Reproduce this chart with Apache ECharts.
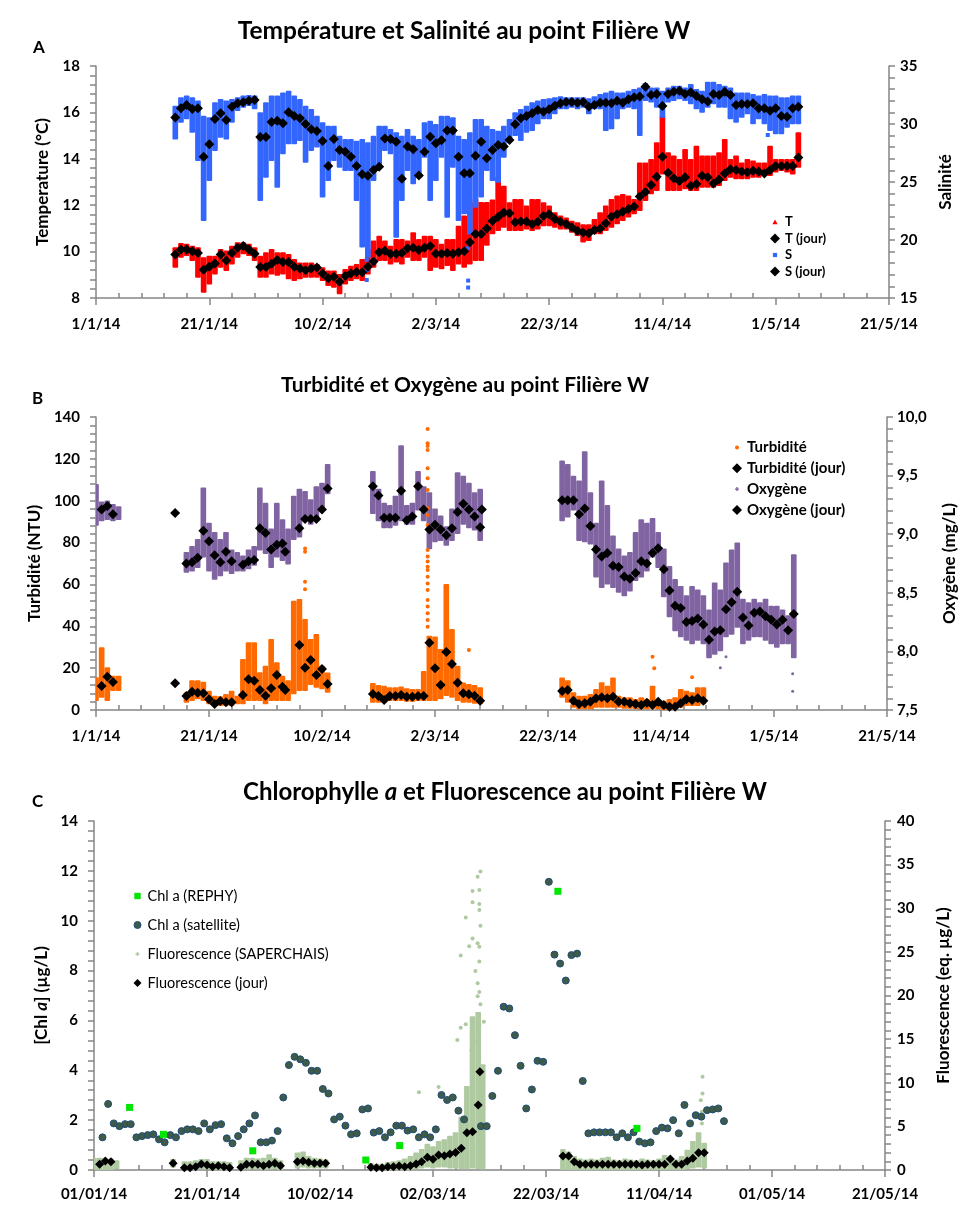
<!DOCTYPE html>
<html><head><meta charset="utf-8">
<script src="https://cdn.jsdelivr.net/npm/echarts@6/dist/echarts.min.js"></script>
<style>html,body{margin:0;padding:0;background:#fff}#c{width:970px;height:1207px}</style>
</head><body><div id="c"></div>
<script>
// ---------------- tick labels ----------------
const xLabelsAB = ['1/1/14','21/1/14','10/2/14','2/3/14','22/3/14','11/4/14','1/5/14','21/5/14'];
const xLabelsC  = ['01/01/14','21/01/14','10/02/14','02/03/14','22/03/14','11/04/14','01/05/14','21/05/14'];

// ---------------- Panel A : daily values start at day 14 (15/1/14) ----------------
const dayStartA = 14;
const tJour = [9.88,10.09,10.09,10.01,9.94,9.22,9.35,9.49,9.88,9.62,
 9.94,10.17,10.24,10.09,9.91,9.34,9.34,9.48,9.64,9.55,
 9.55,9.35,9.27,9.20,9.27,9.31,9.06,8.85,8.92,8.70,
 8.95,9.06,9.12,9.11,9.35,9.57,9.97,10.04,9.90,9.91,
 9.94,10.14,10.17,10.07,10.17,10.24,9.91,9.91,9.94,9.91,
 9.97,10.01,10.40,10.76,
 10.76,11.00,11.32,11.50,11.69,11.65,11.26,11.30,11.30,11.18,
 11.29,11.53,11.61,11.41,11.29,11.19,11.05,10.90,10.82,10.79,
 10.93,11.00,11.22,11.50,11.61,11.72,11.84,11.94,12.37,12.57,
 12.87,13.23,14.09,13.40,13.16,13.04,13.20,12.83,12.91,13.27,
 13.20,12.94,13.11,13.37,13.55,13.52,13.45,13.42,13.49,13.45,
 13.37,13.52,13.69,13.69,13.69,13.69,14.06];
const sJour = [30.57,31.35,31.64,31.29,31.35,27.18,28.25,30.43,30.92,30.34,
 31.49,31.78,31.87,32.01,32.07,28.88,28.88,30.17,30.29,30.06,
 31.01,30.69,30.49,30.00,29.54,29.40,28.53,26.38,28.71,27.76,
 27.61,27.18,26.38,25.66,25.54,26.03,26.32,28.76,28.71,28.48,
 25.29,28.05,27.82,25.57,27.61,28.91,28.34,28.59,29.43,29.43,
 27.18,25.75,25.75,27.27,
 28.48,27.04,27.76,28.19,28.05,28.62,29.97,30.49,30.69,30.92,
 31.21,31.06,31.27,31.58,31.78,31.90,31.90,31.84,31.90,31.49,
 31.64,31.84,31.84,31.78,32.01,31.84,32.13,32.30,32.36,33.22,
 32.50,32.59,31.55,32.59,32.79,32.87,32.59,32.73,32.41,32.13,
 31.93,32.59,32.50,32.79,32.50,31.64,31.72,31.72,31.78,31.35,
 31.35,31.15,31.35,30.69,30.63,31.35,31.49];
// raw high-frequency records, summarised as the daily min / max of the cloud
const tRawLo = [9.35,9.78,9.85,9.64,8.92,8.27,8.63,9.06,9.35,9.21,
 9.49,9.78,9.93,9.85,9.64,8.92,8.92,9.06,9.00,9.06,
 8.85,8.78,8.85,8.92,8.92,8.92,8.78,8.56,8.49,8.20,
 8.63,8.78,8.85,8.78,9.06,9.35,9.64,9.64,9.49,9.57,
 9.49,9.78,9.64,9.64,9.78,9.21,9.35,9.28,9.42,9.21,
 9.49,9.35,9.49,9.64,
 9.64,10.30,10.79,10.93,11.07,10.93,10.93,10.93,11.00,10.93,
 11.00,11.14,11.14,11.07,11.00,11.00,10.86,10.72,10.43,10.50,
 10.79,10.79,10.93,11.07,11.22,11.36,11.51,11.65,11.79,12.22,
 12.51,12.66,13.37,12.66,12.66,12.66,12.73,12.66,12.66,12.80,
 12.80,12.80,12.87,13.09,13.23,13.16,13.16,13.16,13.23,13.23,
 13.30,13.30,13.45,13.52,13.45,13.37,13.66];
const tRawHi = [10.14,10.33,10.29,10.21,10.14,9.71,9.78,9.78,10.07,10.00,
 10.21,10.36,10.36,10.29,10.14,9.78,9.93,10.07,9.93,9.93,
 9.85,9.64,9.49,9.49,9.49,9.42,9.28,9.14,9.14,8.99,
 9.21,9.35,9.42,9.64,10.07,10.43,10.64,10.43,10.21,10.50,
 10.50,10.43,10.79,10.50,10.64,10.64,10.50,10.29,10.50,10.50,
 11.07,11.51,12.08,12.23,
 12.10,12.10,12.20,13.20,12.80,12.08,12.22,12.22,11.94,12.22,
 12.22,12.08,11.94,11.65,11.51,11.43,11.29,11.22,11.14,11.14,
 11.36,11.65,11.94,12.22,12.37,12.44,12.37,12.22,13.80,13.80,
 13.95,14.67,15.82,14.24,14.10,13.95,14.38,13.95,14.52,14.10,
 14.10,14.10,14.24,14.81,13.95,14.10,13.80,13.95,13.88,13.80,
 13.80,14.52,13.95,13.95,13.95,13.95,15.10];
const sRawLo = [28.76,30.20,30.49,29.34,26.90,21.72,25.17,27.76,28.91,28.76,
 30.20,31.21,31.49,31.64,31.35,23.45,25.46,26.90,24.60,27.47,
 28.33,28.33,28.62,26.75,27.76,28.05,23.74,25.17,26.90,26.32,
 26.03,26.03,23.45,19.43,18.56,25.17,26.32,27.76,27.47,20.29,
 23.45,26.03,24.89,25.46,27.18,23.45,25.17,27.18,22.01,26.32,
 21.72,22.30,20.57,22.87,
 23.74,26.03,25.17,25.03,27.18,28.48,29.05,28.62,29.34,29.48,
 30.06,30.49,30.49,30.92,31.35,31.35,31.49,31.35,31.49,30.92,
 31.35,31.35,29.48,29.63,30.49,31.35,31.49,31.35,29.05,32.07,
 31.93,31.49,30.63,31.93,32.07,32.21,32.07,31.78,31.35,31.06,
 31.49,31.78,31.49,31.49,30.49,30.20,30.63,30.92,30.06,30.49,
 30.06,29.48,29.20,29.20,29.77,30.06,30.06];
const sRawHi = [31.49,32.21,32.36,32.21,31.93,30.63,30.49,31.78,32.07,31.93,
 32.07,32.21,32.36,32.41,32.36,30.92,31.78,32.36,32.36,32.64,
 32.79,32.36,32.07,31.49,31.21,30.63,30.06,29.77,29.77,28.91,
 28.62,28.62,28.48,28.62,28.33,28.91,29.77,29.77,29.48,29.20,
 28.91,29.48,28.91,28.62,30.06,30.20,29.91,30.63,30.63,30.49,
 28.91,28.62,29.20,30.34,
 30.34,29.77,29.48,29.34,29.77,30.34,30.92,31.21,31.49,31.78,
 31.93,32.07,32.13,32.21,32.30,32.21,32.21,32.21,32.21,32.13,
 32.30,32.50,32.64,32.79,32.64,32.64,32.79,32.93,33.07,33.45,
 33.07,33.07,32.79,33.07,33.22,33.22,33.07,33.36,32.93,32.79,
 33.56,33.56,33.36,33.22,33.07,32.64,32.64,32.64,32.50,32.36,
 32.50,32.36,32.36,32.21,32.21,32.36,32.36];
const sRawIsolated = [[47.8,18.28],[47.8,17.4],[47.8,16.55],[65.7,19.3],[65.7,16.5],[65.7,15.9],[118.6,29.05]];

// ---------------- Panel B ----------------
const turbJour = [[1,11.47],[2,15.93],[3,13.38],[14,12.74],[16,6.69],[17,8.76],[18,8.28],[19,7.96],[20,5.10],[21,2.87],[22,4.30],[23,3.66],[24,3.66],[26,7.17],[27,14.65],[28,14.01],[29,9.56],[30,6.85],[31,10.35],[32,16.72],[33,11.15],[33.5,9.56],[36,31.06],[37,20.23],[38,23.89],[39,16.72],[40,19.59],[41,12.42],[49,7.64],[50,6.69],[51,4.78],[52,6.69],[53,6.69],[54,7.17],[55,6.37],[56,6.37],[57,6.69],[58,6.69],[59,32.17],[60,19.91],[61,11.94],[62,27.71],[63,21.98],[64,13.06],[65,7.96],[66,7.48],[67,6.85],[68,4.46],[82.5,9.08],[83.5,9.56],[84.5,4.46],[85.5,2.87],[86.5,3.19],[87.5,3.98],[88.5,5.57],[89.5,6.05],[90.5,5.57],[91.5,6.37],[92.5,3.98],[93.5,3.98],[94.5,3.19],[95.5,2.87],[96.5,2.39],[97.5,3.50],[98.5,2.39],[99.5,3.98],[100.5,2.39],[101.5,1.59],[102.5,1.59],[103.5,3.19],[104.5,5.10],[105.5,4.78],[106.5,5.57],[107.5,4.46]];
const oxyJour = [[1,9.21],[2,9.24],[3,9.17],[14,9.18],[16,8.75],[17,8.76],[18,8.80],[19,9.03],[20,8.94],[21,8.82],[22,8.76],[23,8.85],[24,8.77],[26,8.74],[27,8.77],[28,8.78],[29,9.05],[30,9.01],[31,8.87],[32,8.91],[33,8.92],[33.5,8.85],[36,9.05],[37,9.13],[38,9.13],[39,9.13],[40,9.21],[41,9.39],[49,9.41],[50,9.33],[51,9.14],[52,9.14],[53,9.14],[54,9.37],[55,9.12],[56,9.15],[57,9.41],[58,9.21],[59,9.04],[60,9.08],[61,9.04],[62,8.99],[63,9.05],[64,9.19],[65,9.26],[66,9.21],[67,9.15],[68,9.06],[68.3,9.21],[82.5,9.29],[83.5,9.29],[84.5,9.29],[85.5,9.17],[86.5,9.22],[87.5,9.07],[88.5,8.87],[89.5,8.81],[90.5,8.84],[91.5,8.73],[92.5,8.72],[93.5,8.64],[94.5,8.62],[95.5,8.67],[96.5,8.77],[97.5,8.75],[98.5,8.84],[99.5,8.88],[100.5,8.70],[101.5,8.52],[102.5,8.39],[103.5,8.37],[104.5,8.25],[105.5,8.26],[106.5,8.28],[107.5,8.23],[108.5,8.10],[109.5,8.17],[110.5,8.18],[111.5,8.36],[112.5,8.42],[113.5,8.51],[114.5,8.29],[115.5,8.22],[116.5,8.33],[117.5,8.34],[118.5,8.30],[119.5,8.27],[120.5,8.23],[121.5,8.27],[122.5,8.18],[123.5,8.32]];
// [day, min, max] of the raw cloud
const turbRaw = [[0,4.78,15.2],[1,6.37,29.46],[2,4.78,19.91],[3,9.56,15.93],[4,9.56,15.93],[16,3.98,7.96],[17,4.78,13.7],[18,5.57,13.7],[19,4.78,13.06],[20,3.19,8.76],[21,2.39,6.37],[22,2.39,6.05],[23,2.39,7.17],[24,2.39,8.76],[25,3.19,6.37],[26,3.19,23.89],[27,4.78,31.85],[28,4.78,31.85],[29,4.78,17.52],[30,3.19,20.7],[31,4.78,33.44],[32,4.78,22.3],[33,4.78,15.93],[34,4.78,13.7],[35,7.96,51.76],[36,9.56,52.6],[37,9.56,43.0],[38,12.4,33.4],[39,11.15,35.8],[40,10.35,20.7],[41,8.76,17.5],[49,3.98,12.4],[50,3.98,11.47],[51,3.98,11.15],[52,4.78,10.35],[53,4.78,10.35],[54,4.78,10.8],[55,4.46,9.87],[56,4.46,9.56],[57,4.78,9.56],[58,4.78,18.15],[59,4.78,35],[60,4.78,34.7],[61,5.57,28.7],[62,7.17,59.7],[63,6.37,38.2],[64,4.78,20.7],[65,3.98,12.7],[66,3.98,11.94],[67,3.5,11.47],[68,3.19,10.35],[82.5,6.37,15.1],[83.5,3.98,13.7],[84.5,1.59,7.96],[85.5,0.8,6.37],[86.5,0.8,6.37],[87.5,0.8,7.17],[88.5,1.59,9.56],[89.5,1.59,12.74],[90.5,1.59,11.15],[91.5,1.59,15.1],[92.5,1.59,6.37],[93.5,1.11,5.57],[94.5,1.11,5.57],[95.5,0.8,4.78],[96.5,0.8,5.57],[97.5,0.8,4.78],[98.5,1.11,11.15],[99.5,0.8,3.98],[100.5,0.32,3.98],[101.5,0.32,4.78],[102.5,0.8,5.57],[103.5,1.59,9.56],[104.5,2.39,8.76],[105.5,2.39,7.96],[106.5,2.39,10.35],[107.5,3.19,10.35]];
const turbIsolated = [[37,61.3],[37,57.65],[37,77.2],[37,75.6],[58.7,134.3],[58.7,127.4],[58.7,126.2],[58.7,124.2],[58.7,115.5],[58.7,110.7],[58.7,105.1],[58.7,96.4],[58.7,93.2],[58.7,88.4],[58.7,76.4],[58.7,73.3],[58.7,70.9],[58.7,68.5],[58.7,66.9],[58.7,63.7],[58.7,60.5],[58.7,57.3],[58.7,52.6],[58.7,49.4],[58.7,46.2],[58.7,43.0],[58.7,39.8],[66,28.7],[98.5,25.5],[98.8,19.9],[105.5,15.6]];
const oxyRaw = [[0,9.08,9.42],[1,9.12,9.27],[2,9.13,9.28],[3,9.12,9.25],[4,9.13,9.23],[16,8.68,8.84],[17,8.69,8.89],[18,8.72,8.95],[19,8.81,9.39],[20,8.69,9.09],[21,8.62,9.01],[22,8.65,8.95],[23,8.69,9.01],[24,8.67,8.86],[25,8.69,8.84],[26,8.69,8.81],[27,8.71,8.86],[28,8.74,8.89],[29,8.87,9.39],[30,8.84,9.26],[31,8.72,9.04],[32,8.81,9.26],[33,8.78,9.12],[34,8.75,9.04],[35,8.96,9.32],[36,8.98,9.38],[37,9.12,9.36],[38,9.09,9.29],[39,9.15,9.40],[40,9.21,9.43],[41,9.35,9.59],[49,9.18,9.53],[50,9.12,9.38],[51,9.06,9.26],[52,9.06,9.24],[53,9.08,9.32],[54,9.12,9.75],[55,9.09,9.24],[56,9.09,9.26],[57,9.21,9.53],[58,9.12,9.40],[59,8.88,9.35],[60,8.94,9.21],[61,8.95,9.15],[62,8.91,9.06],[63,8.95,9.21],[64,9.01,9.52],[65,9.09,9.49],[66,9.06,9.43],[67,9.04,9.35],[68,8.95,9.38],[82.5,9.12,9.62],[83.5,9.15,9.59],[84.5,9.21,9.49],[85.5,8.95,9.45],[86.5,8.94,9.70],[87.5,8.92,9.35],[88.5,8.64,9.09],[89.5,8.55,9.45],[90.5,8.58,9.24],[91.5,8.55,8.98],[92.5,8.51,8.87],[93.5,8.48,8.81],[94.5,8.52,8.84],[95.5,8.61,9.01],[96.5,8.64,9.12],[97.5,8.69,9.09],[98.5,8.81,9.13],[99.5,8.72,9.01],[100.5,8.47,8.87],[101.5,8.30,8.72],[102.5,8.18,8.61],[103.5,8.13,8.55],[104.5,8.10,8.47],[105.5,8.07,8.55],[106.5,8.10,8.52],[107.5,8.07,8.47],[108.5,7.95,8.35],[109.5,7.98,8.58],[110.5,8.01,8.52],[111.5,8.13,8.75],[112.5,8.15,8.86],[113.5,8.21,8.92],[114.5,8.07,8.44],[115.5,8.10,8.41],[116.5,8.13,8.44],[117.5,8.13,8.41],[118.5,8.10,8.44],[119.5,8.07,8.38],[120.5,8.04,8.38],[121.5,8.07,8.35],[122.5,8.07,8.30],[123.5,7.95,8.82]];
const oxyIsolated = [[110.5,7.86],[111.5,7.955],[123.3,7.81],[123.3,7.66]];

// ---------------- Panel C ----------------
const chlRephy = [[6.3,2.51],[12.3,1.43],[28.1,0.77],[48.1,0.40],[54.1,0.98],[82.1,11.18],[96.1,1.67]];
const satStart1 = 1.5;
const chlSat1 = [1.31,2.65,1.87,1.76,1.84,1.84,1.31,1.36,1.40,1.43,
 1.23,1.11,1.40,1.31,1.56,1.63,1.63,1.56,1.87,1.63,
 1.80,1.84,1.27,1.07,1.36,1.63,1.87,2.19,1.11,1.11,
 1.18,1.56,2.91,4.21,4.54,4.44,4.30,3.98,3.98,3.25,
 3.07,2.03,2.14,1.78,1.43,1.47,2.43,2.47,1.50,1.56,
 1.31,1.51,1.78,1.78,1.58,1.63,1.31,1.43,1.31,1.63,
 3.01,2.81,2.91,2.38,2.03];
const satStart2 = 68.5;
const chlSat2 = [1.76,1.76,2.97,3.98,6.55,6.48,5.41,4.18,2.47,3.23,
 4.38,4.34,11.56,8.64,8.28,7.60,8.62,8.68,3.57,1.47,
 1.51,1.51,1.51,1.51,1.31,1.47,1.31,1.51,1.14,1.07,
 1.11,1.56,1.70,1.67,2.00,1.47,2.61,1.87,2.20,2.14,
 2.40,2.43,2.47,1.96];
const fluoJour = [[1,0.65],[2,1.03],[3,0.95],[14,0.76],[16,0.27],[17,0.27],[18,0.38],[19,0.69],[20,0.57],[21,0.38],[22,0.50],[23,0.38],[24,0.27],[26,0.31],[27,0.65],[28,0.65],[29,0.65],[30,0.50],[31,0.65],[32,0.76],[33,0.50],[36,0.95],[37,1.03],[38,0.88],[39,0.76],[40,0.76],[41,0.76],[49,0.31],[50,0.27],[51,0.27],[52,0.38],[53,0.38],[54,0.46],[55,0.38],[56,0.50],[57,0.69],[58,0.95],[59,1.45],[60,1.22],[61,1.72],[62,1.64],[63,1.83],[64,2.02],[65,2.48],[66,4.27],[67,4.39],[68,7.44],[68.3,11.26],[83,1.60],[84,1.60],[85,0.95],[86,0.65],[87,0.65],[88,0.65],[89,0.65],[90,0.65],[91,0.65],[92,0.65],[93,0.65],[94,0.65],[95,0.65],[96,0.65],[97,0.57],[98,0.65],[99,0.65],[100,0.65],[101,0.65],[102,1.26],[103,0.65],[104,0.65],[105,1.03],[106,1.34],[107,1.98],[108,1.98]];
const fluoRaw = [[0,0.1,1.3],[1,0.1,1.3],[2,0.1,1.2],[3,0.1,1.2],[4,0.2,1.0],[14,0.4,1.15],[16,0.05,0.9],[17,0.05,0.9],[18,0.1,1.0],[19,0.2,1.15],[20,0.2,1.15],[21,0.1,0.9],[22,0.1,0.9],[23,0.05,0.9],[24,0.05,0.8],[26,0.05,1.0],[27,0.2,1.3],[28,0.2,1.3],[29,0.2,1.2],[30,0.1,1.3],[31,0.2,1.7],[32,0.2,1.3],[33,0.1,1.0],[36,0.3,1.9],[37,0.4,2.0],[38,0.3,1.5],[39,0.3,1.3],[40,0.3,1.2],[41,0.3,1.1],[49,0.05,0.7],[50,0.05,0.6],[51,0.05,0.6],[52,0.05,0.8],[53,0.05,0.9],[54,0.1,1.0],[55,0.1,1.2],[56,0.1,1.5],[57,0.2,1.9],[58,0.3,2.3],[59,0.4,2.9],[60,0.3,2.6],[61,0.4,3.2],[62,0.4,3.4],[63,0.3,3.8],[64,0.3,4.2],[65,0.2,6.0],[66,0.2,9.5],[67,0.3,17.5],[68,0.2,18.0],[68.8,0.2,12.0],[83,0.1,2.3],[84,0.1,2.0],[85,0.0,1.5],[86,0.0,1.2],[87,0.0,1.1],[88,0.0,1.2],[89,0.0,1.1],[90,0.0,1.3],[91,0.0,1.4],[92,0.0,1.1],[93,0.0,1.0],[94,0.0,1.2],[95,0.0,1.1],[96,0.0,1.0],[97,0.0,1.2],[98,0.0,1.1],[99,0.0,1.0],[100,0.0,1.2],[101,0.1,1.6],[102,0.0,1.2],[103,0.0,1.1],[104,0.1,1.5],[105,0.2,2.2],[106,0.3,3.2],[107,0.4,4.2],[108,0.3,3.0]];
const fluoIsolated = [[64.9,16.3],[64.9,24.58],[65.8,28.93],[65.8,16.7],[66.4,25.65],[67,26.52],[67,31.98],[67,30.7],[67,17.1],[67.5,22.8],[67.9,33.6],[67.9,26.0],[67.9,21.4],[67.9,19.9],[67.9,11.8],[68.2,32.1],[68.2,30.5],[68.2,29.8],[68.2,25.6],[68.2,23.9],[68.2,20.4],[68.2,16.6],[68.2,12.96],[68.4,34.2],[68.4,28.0],[68.4,19.0],[69.0,17.0],[64.3,14.9],[67.2,14.7],[66.8,13.7],[57.5,8.9],[61,9.5],[107.7,10.69],[107.7,8.78],[107.4,8.0],[107.6,6.68],[107.6,5.34]];

// ---------------- build ----------------
const FONT = 'Lato, "Liberation Sans", Arial, sans-serif';
const AX = '#868686';
const seq = (start, arr) => arr.map((v, i) => [start + i, v]);
const seqRange = (start, lo, hi) => lo.map((v, i) => [start + i, v, hi[i]]);

function rangeSeries(name, data, xi, yi, color, wDays, z) {
  return { name, type: 'custom', xAxisIndex: xi, yAxisIndex: yi, data, z, clip: true,
    itemStyle: { color }, encode: { x: 0, y: [1, 2] }, animation: false,
    renderItem(params, api) {
      const x = api.value(0), lo = api.value(1), hi = api.value(2);
      const a = api.coord([x - wDays / 2, hi]);
      const b = api.coord([x + wDays / 2, lo]);
      let y = a[1] - 1, h = b[1] - a[1] + 2;
      if (h < 3) { y -= (3 - h) / 2; h = 3; }
      return { type: 'rect', shape: { x: a[0], y, width: b[0] - a[0], height: h, r: 1 }, style: { fill: color } };
    } };
}
function dots(name, data, xi, yi, symbol, size, color, z, extra) {
  return Object.assign({ name, type: 'scatter', xAxisIndex: xi, yAxisIndex: yi, data, symbol, symbolSize: size, z,
    itemStyle: { color, opacity: 1 }, animation: false, emphasis: { disabled: true } }, extra || {});
}
function xAxis(g, labels, margin) {
  return { type: 'value', gridIndex: g, min: 0, max: 140, interval: 20,
    axisLine: { show: true, onZero: false, lineStyle: { color: AX, width: 1.5 } },
    axisTick: { show: true, length: 7, lineStyle: { color: AX, width: 1.5 } },
    minorTick: { show: true, splitNumber: 5, length: -5, lineStyle: { color: AX, width: 1.5 } },
    splitLine: { show: false },
    axisLabel: { formatter: v => labels[Math.round(v / 20)], color: '#000', fontSize: 15, fontWeight: 'bold', fontFamily: FONT, margin } };
}
function yAxis(g, pos, min, max, interval, name, gap, margin, fmt, rich) {
  return { type: 'value', gridIndex: g, position: pos, min, max, interval,
    name, nameLocation: 'middle', nameGap: gap, nameRotate: 90,
    nameTextStyle: { fontSize: 17, fontWeight: 'bold', color: '#000', fontFamily: FONT, rich },
    axisLine: { show: true, onZero: false, lineStyle: { color: AX, width: 1.5 } },
    axisTick: { show: true, length: 6, lineStyle: { color: AX, width: 1.5 } },
    minorTick: { show: true, splitNumber: 5, length: 6, lineStyle: { color: AX, width: 1.5 } },
    splitLine: { show: false },
    axisLabel: { formatter: fmt, color: '#000', fontSize: 15, fontWeight: 'bold', fontFamily: FONT, margin } };
}
const ICON_TRI = 'path://M0,0M10,10M5,2.6L7.6,7.2L2.4,7.2Z';
const ICON_SQ = 'path://M0,0M10,10M2.9,2.9H7.1V7.1H2.9Z';
const ICON_DOT = 'path://M0,0M10,10M3,5A2,2 0 1,0 7,5A2,2 0 1,0 3,5Z';
const ICON_PLUS = 'path://M0,0M10,10M4.3,3H5.7V4.3H7V5.7H5.7V7H4.3V5.7H3V4.3H4.3Z';
const ICON_SQ6 = 'path://M0,0M10,10M1.8,1.8H8.2V8.2H1.8Z';
const ICON_CIR7 = 'path://M0,0M10,10M1.5,5A3.5,3.5 0 1,0 8.5,5A3.5,3.5 0 1,0 1.5,5Z';
const ICON_DIA8 = 'path://M0,0M10,10M5,1L9,5L5,9L1,5Z';

const BLUE = '#3366FF', RED = '#FF0000', ORANGE = '#FF6A00', PURPLE = '#8064A2';
const GREEN = '#00E600', SAT = '#3F5A46', FLUO = '#AFC9A0';

const option = {
  backgroundColor: '#fff',
  animation: false,
  title: [
    { text: 'Température et Salinité au point Filière W', left: 459, top: 14, textAlign: 'center',
      textStyle: { fontSize: 24.5, fontWeight: 'bold', color: '#000', fontFamily: FONT } },
    { text: 'Turbidité et Oxygène au point Filière W', left: 460, top: 370, textAlign: 'center',
      textStyle: { fontSize: 21, fontWeight: 'bold', color: '#000', fontFamily: FONT } },
    { text: 'Chlorophylle {i|a} et Fluorescence au point Filière W', left: 500, top: 775, textAlign: 'center',
      textStyle: { fontSize: 24, fontWeight: 'bold', color: '#000', fontFamily: FONT,
        rich: { i: { fontSize: 24, fontWeight: 'bold', fontStyle: 'italic', color: '#000', fontFamily: FONT } } } },
    { text: 'A', left: 28, top: 34, textStyle: { fontSize: 17, fontWeight: 'bold', color: '#000', fontFamily: FONT } },
    { text: 'B', left: 27, top: 385, textStyle: { fontSize: 17, fontWeight: 'bold', color: '#000', fontFamily: FONT } },
    { text: 'C', left: 27, top: 788, textStyle: { fontSize: 17, fontWeight: 'bold', color: '#000', fontFamily: FONT } }
  ],
  grid: [
    { left: 96, top: 66, width: 793, height: 232 },
    { left: 96, top: 417, width: 791, height: 293 },
    { left: 94, top: 821, width: 791, height: 349 }
  ],
  xAxis: [ xAxis(0, xLabelsAB, 19), xAxis(1, xLabelsAB, 19), xAxis(2, xLabelsC, 17) ],
  yAxis: [
    yAxis(0, 'left', 8, 18, 2, 'Temperature (°C)', 45, 16),
    yAxis(0, 'right', 15, 35, 5, 'Salinité', 48, 11),
    yAxis(1, 'left', 0, 140, 20, 'Turbidité (NTU)', 47, 16),
    yAxis(1, 'right', 7.5, 10, 0.5, 'Oxygène (mg/L)', 54, 10, v => v.toFixed(1).replace('.', ',')),
    yAxis(2, 'left', 0, 14, 2, '[Chl {i|a}] (µg/L)', 42, 16, null, { i: { fontSize: 17, fontWeight: 'bold', fontStyle: 'italic', color: '#000', fontFamily: FONT } }),
    yAxis(2, 'right', 0, 40, 5, 'Fluorescence (eq. µg/L)', 50, 12)
  ],
  legend: [
    { left: 770, top: 215, orient: 'vertical', padding: 0, itemWidth: 10, itemHeight: 10, itemGap: 2.5, selectedMode: false,
      textStyle: { fontSize: 13, fontWeight: 'bold', color: '#000', fontFamily: FONT, lineHeight: 14 },
      data: [ { name: 'T', icon: ICON_TRI, itemStyle: { color: RED } },
              { name: 'T (jour)', icon: 'diamond', itemStyle: { color: '#000' } },
              { name: 'S', icon: ICON_SQ, itemStyle: { color: BLUE } },
              { name: 'S (jour)', icon: 'diamond', itemStyle: { color: '#000' } } ] },
    { left: 732, top: 439, orient: 'vertical', padding: 0, itemWidth: 10, itemHeight: 10, itemGap: 3.8, selectedMode: false,
      textStyle: { fontSize: 15, fontWeight: 'bold', color: '#000', fontFamily: FONT, lineHeight: 17 },
      data: [ { name: 'Turbidité', icon: ICON_DOT, itemStyle: { color: ORANGE } },
              { name: 'Turbidité (jour)', icon: 'diamond', itemStyle: { color: '#000' } },
              { name: 'Oxygène', icon: ICON_PLUS, itemStyle: { color: PURPLE } },
              { name: 'Oxygène (jour)', icon: 'diamond', itemStyle: { color: '#000' } } ] },
    { left: 132, top: 888, orient: 'vertical', padding: 0, itemWidth: 10, itemHeight: 10, itemGap: 13, selectedMode: false,
      textStyle: { fontSize: 14.5, color: '#000', fontFamily: FONT, lineHeight: 16 },
      data: [ { name: 'Chl a (REPHY)', icon: ICON_SQ6, itemStyle: { color: GREEN } },
              { name: 'Chl a (satellite)', icon: ICON_CIR7, itemStyle: { color: SAT, borderColor: '#1F4E79', borderWidth: 1 } },
              { name: 'Fluorescence (SAPERCHAIS)', icon: ICON_PLUS, itemStyle: { color: FLUO } },
              { name: 'Fluorescence (jour)', icon: ICON_DIA8, itemStyle: { color: '#000' } } ] }
  ],
  series: [
    // Panel A
    rangeSeries('T', seqRange(dayStartA, tRawLo, tRawHi), 0, 0, RED, 1.0, 2),
    rangeSeries('S', seqRange(dayStartA, sRawLo, sRawHi), 0, 1, BLUE, 1.0, 3),
    dots('S', sRawIsolated, 0, 1, 'rect', 4, BLUE, 3),
    dots('T (jour)', seq(dayStartA, tJour), 0, 0, 'diamond', 10, '#000', 5),
    dots('S (jour)', seq(dayStartA, sJour), 0, 1, 'diamond', 10, '#000', 5),
    // Panel B
    rangeSeries('Oxygène', oxyRaw, 1, 3, PURPLE, 1.0, 2),
    dots('Oxygène', oxyIsolated, 1, 3, 'circle', 3, PURPLE, 2),
    rangeSeries('Turbidité', turbRaw, 1, 2, ORANGE, 1.0, 3),
    dots('Turbidité', turbIsolated, 1, 2, 'circle', 4, ORANGE, 3),
    dots('Turbidité (jour)', turbJour, 1, 2, 'diamond', 10, '#000', 5),
    dots('Oxygène (jour)', oxyJour, 1, 3, 'diamond', 10, '#000', 5),
    // Panel C
    rangeSeries('Fluorescence (SAPERCHAIS)', fluoRaw, 2, 5, FLUO, 1.0, 1),
    dots('Fluorescence (SAPERCHAIS)', fluoIsolated, 2, 5, 'circle', 4, FLUO, 1),
    dots('Chl a (satellite)', seq(satStart1, chlSat1).concat(seq(satStart2, chlSat2)), 2, 4, 'circle', 7, SAT, 3,
      { itemStyle: { color: SAT, borderColor: '#1F4E79', borderWidth: 1, opacity: 1 } }),
    dots('Chl a (REPHY)', chlRephy, 2, 4, 'rect', 7, GREEN, 4),
    dots('Fluorescence (jour)', fluoJour, 2, 5, 'diamond', 9, '#000', 5)
  ]
};
const chart = echarts.init(document.getElementById('c'), null, { renderer: 'canvas' });
chart.setOption(option);
</script></body></html>
